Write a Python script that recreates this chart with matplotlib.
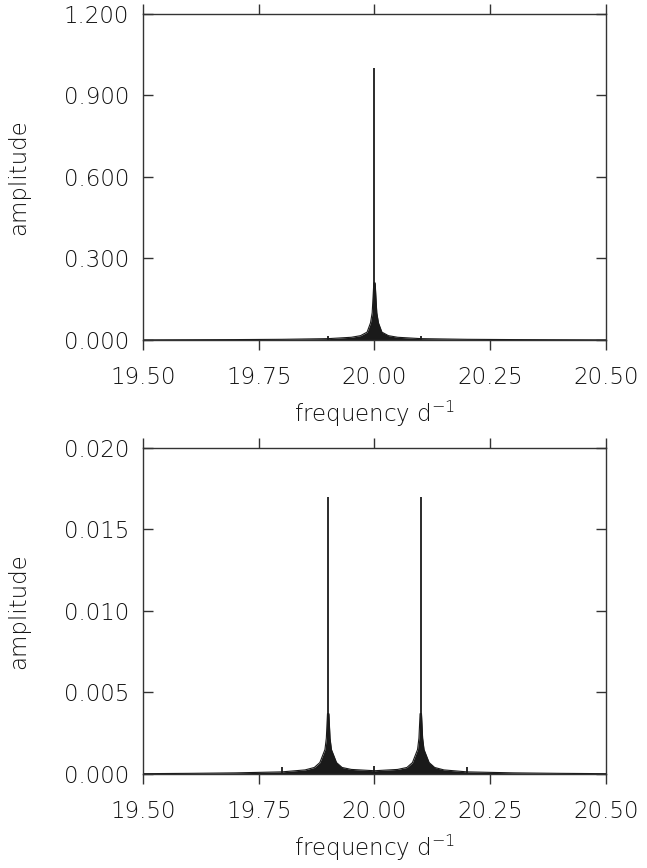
import numpy as np
import matplotlib
matplotlib.use('Agg')
import matplotlib.pyplot as plt
from matplotlib.ticker import MultipleLocator, FormatStrFormatter

# Panel 1: single peak at 20.00 d^-1 (envelope of the dense spectrum)
f_top = [19.50, 19.60, 19.70, 19.80, 19.90, 19.95, 19.97, 19.984, 19.9914, 19.995,
         19.997, 19.9985, 20.0015, 20.003, 20.005, 20.0086, 20.016, 20.03, 20.05,
         20.10, 20.20, 20.30, 20.40, 20.50]
a_top = [0.0005, 0.0010, 0.0015, 0.0025, 0.005, 0.010, 0.016, 0.029, 0.063, 0.10,
         0.16, 0.21, 0.21, 0.16, 0.10, 0.063, 0.029, 0.016, 0.010,
         0.005, 0.0025, 0.0015, 0.0010, 0.0005]
spike_f_top = [19.90, 20.00, 20.10]
spike_a_top = [0.015, 1.000, 0.015]

# Panel 2: two peaks at 19.90 and 20.10 d^-1
f_bot = [19.50, 19.60, 19.70, 19.80, 19.85, 19.87, 19.882, 19.893, 19.896, 19.8985,
         19.9015, 19.904, 19.907, 19.918, 19.93, 19.95, 20.00, 20.05, 20.07, 20.082,
         20.093, 20.096, 20.0985, 20.1015, 20.104, 20.107, 20.118, 20.13, 20.15,
         20.20, 20.30, 20.40, 20.50]
a_bot = [0.00002, 0.00004, 0.00007, 0.00013, 0.00025, 0.0004, 0.0007, 0.0015, 0.0022, 0.0037,
         0.0037, 0.0022, 0.0015, 0.0007, 0.0004, 0.00028, 0.0002, 0.00028, 0.0004, 0.0007,
         0.0015, 0.0022, 0.0037, 0.0037, 0.0022, 0.0015, 0.0007, 0.0004, 0.00025,
         0.00013, 0.00007, 0.00004, 0.00002]
spike_f_bot = [19.80, 19.90, 20.00, 20.10, 20.20]
spike_a_bot = [0.0004, 0.0170, 0.0005, 0.0170, 0.0004]

xticks = [19.50, 19.75, 20.00, 20.25, 20.50]

plt.rcParams['font.family'] = ['DejaVu Sans']
plt.rcParams['font.weight'] = 'light'
plt.rcParams['axes.labelweight'] = 'light'
plt.rcParams['mathtext.fontset'] = 'dejavusans'
plt.rcParams['axes.linewidth'] = 1.0
plt.rcParams['axes.edgecolor'] = '#333333'

fig = plt.figure(figsize=(6.47, 8.68), dpi=100)
ax1 = fig.add_axes([0.221, 0.6083, 0.7156, 0.3756])
ax2 = fig.add_axes([0.221, 0.1083, 0.7156, 0.3756])

panels = [
    (ax1, f_top, a_top, spike_f_top, spike_a_top, 1.2, 0.3, '%.3f'),
    (ax2, f_bot, a_bot, spike_f_bot, spike_a_bot, 0.02, 0.005, '%.3f'),
]

for ax, f, a, sf, sa, ymax, ystep, fmt in panels:
    ax.fill_between(f, 0, a, color='#1a1a1a', lw=0)
    ax.plot(f, a, color='#1a1a1a', lw=0.8)
    ax.vlines(sf, 0, sa, color='#1a1a1a', lw=1.3)
    ax.set_xlim(19.5, 20.5)
    ax.set_ylim(0, ymax)
    ax.set_xticks(xticks)
    ax.xaxis.set_major_formatter(FormatStrFormatter('%.2f'))
    ax.yaxis.set_major_locator(MultipleLocator(ystep))
    ax.yaxis.set_major_formatter(FormatStrFormatter(fmt))
    ax.tick_params(axis='x', direction='out', length=7, width=1.0, color='#333333',
                   top=True, bottom=True, labelsize=16.5, pad=12, labelcolor='#111111')
    ax.tick_params(axis='y', direction='in', length=7, width=1.0, color='#333333',
                   left=True, right=True, labelsize=16.5, pad=10, labelcolor='#111111')
    ax.set_xlabel(r'frequency d$^{-1}$', fontsize=16.5, color='#111111', labelpad=7)
    ax.set_ylabel('amplitude', fontsize=16.5, color='#111111', labelpad=24)

fig.savefig('out.png', dpi=100)
